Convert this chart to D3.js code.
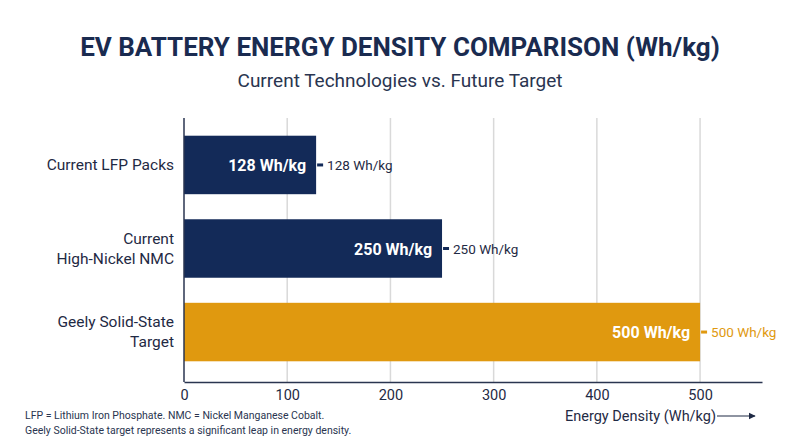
<!DOCTYPE html>
<html>
<head>
<meta charset="utf-8">
<script src="https://cdn.jsdelivr.net/npm/d3@7"></script>
<style>
  body { margin: 0; background: #fff; font-family: Roboto, "Noto Sans", sans-serif; }
</style>
</head>
<body>
<script>
// chart data
var categories = [["Current LFP Packs"], ["Current", "High-Nickel NMC"], ["Geely Solid-State", "Target"]];
var values = [128, 250, 500];
var barColors = ["#132a58", "#132a58", "#e0990f"];
var ticks = [0, 100, 200, 300, 400, 500];

var width = 800, height = 447;
var plotLeft = 184, plotRight = 762, plotTop = 118, plotBottom = 382;

var svg = d3.select("body").append("svg")
            .attr("width", width)
            .attr("height", height);

// title and subtitle
svg.append("text")
   .attr("x", width / 2).attr("y", 56)
   .attr("text-anchor", "middle")
   .attr("font-size", 26).attr("font-weight", "bold")
   .attr("fill", "#1a2b50")
   .text("EV BATTERY ENERGY DENSITY COMPARISON (Wh/kg)");
svg.append("text")
   .attr("x", width / 2).attr("y", 87)
   .attr("text-anchor", "middle")
   .attr("font-size", 19).attr("fill", "#2a3550")
   .text("Current Technologies vs. Future Target");

var xScale = d3.scaleLinear().domain([0, 560]).range([plotLeft, plotRight]);
var yScale = d3.scaleBand().domain(d3.range(values.length))
               .range([plotTop + 1, plotBottom - 4]).paddingInner(0.3).paddingOuter(0.2);

// gridlines
svg.selectAll(".grid").data(ticks.slice(1)).enter().append("line")
   .attr("x1", function(d) { return xScale(d); })
   .attr("x2", function(d) { return xScale(d); })
   .attr("y1", plotTop).attr("y2", plotBottom)
   .attr("stroke", "#d9d9d9").attr("stroke-width", 1.5);

// bars
svg.selectAll(".bar").data(values).enter().append("rect")
   .attr("x", xScale(0))
   .attr("y", function(d, i) { return yScale(i); })
   .attr("width", function(d) { return xScale(d) - xScale(0); })
   .attr("height", yScale.bandwidth())
   .attr("fill", function(d, i) { return barColors[i]; });

// labels inside bars
svg.selectAll(".inlabel").data(values).enter().append("text")
   .attr("x", function(d) { return xScale(d) - 10; })
   .attr("y", function(d, i) { return yScale(i) + yScale.bandwidth() / 2 + 6; })
   .attr("text-anchor", "end")
   .attr("font-size", 16).attr("font-weight", "bold").attr("fill", "#fff")
   .text(function(d) { return d + " Wh/kg"; });

// leader ticks and outside labels
svg.selectAll(".lead").data(values).enter().append("line")
   .attr("x1", function(d) { return xScale(d) + 1; })
   .attr("x2", function(d) { return xScale(d) + 7; })
   .attr("y1", function(d, i) { return yScale(i) + yScale.bandwidth() / 2; })
   .attr("y2", function(d, i) { return yScale(i) + yScale.bandwidth() / 2; })
   .attr("stroke", function(d, i) { return barColors[i]; }).attr("stroke-width", 3);
svg.selectAll(".outlabel").data(values).enter().append("text")
   .attr("x", function(d) { return xScale(d) + 11; })
   .attr("y", function(d, i) { return yScale(i) + yScale.bandwidth() / 2 + 5; })
   .attr("font-size", 13.5)
   .attr("fill", function(d, i) { return i == 2 ? barColors[i] : "#1f2a44"; })
   .text(function(d) { return d + " Wh/kg"; });

// category labels
categories.forEach(function(lines, i) {
  var cy = yScale(i) + yScale.bandwidth() / 2;
  var t = svg.append("text")
     .attr("x", 174).attr("text-anchor", "end")
     .attr("font-size", 15.5).attr("fill", "#1f2a44");
  lines.forEach(function(l, j) {
    t.append("tspan").attr("x", 174)
     .attr("y", cy + 5 + (j - (lines.length - 1) / 2) * 20)
     .text(l);
  });
});

// axes lines
svg.append("line").attr("x1", plotLeft).attr("x2", plotLeft).attr("y1", plotTop).attr("y2", plotBottom)
   .attr("stroke", "#2a3550").attr("stroke-width", 1.5);
var xAxis = d3.axisBottom(xScale).tickValues(ticks).tickSize(0).tickPadding(8);
var gx = svg.append("g").attr("transform", "translate(0," + plotBottom + ")").call(xAxis);
gx.select(".domain").attr("stroke", "#2a3550").attr("stroke-width", 1.5);
gx.selectAll("text").attr("font-size", 14.5).attr("fill", "#1f2a44")
  .attr("font-family", "Roboto, sans-serif");

// axis title with arrow
svg.append("defs").append("marker")
   .attr("id", "arr").attr("viewBox", "0 0 10 10").attr("refX", 9).attr("refY", 5)
   .attr("markerWidth", 6).attr("markerHeight", 6).attr("orient", "auto")
   .append("path").attr("d", "M0,0L10,5L0,10z").attr("fill", "#1f2a44");
svg.append("text")
   .attr("x", 716).attr("y", 421).attr("text-anchor", "end")
   .attr("font-size", 14.5).attr("fill", "#1f2a44")
   .text("Energy Density (Wh/kg)");
svg.append("line").attr("x1", 717).attr("x2", 755).attr("y1", 416).attr("y2", 416)
   .attr("stroke", "#1f2a44").attr("stroke-width", 1.2).attr("marker-end", "url(#arr)");

// footnote
svg.append("text").attr("x", 25).attr("y", 419).attr("font-size", 10.5).attr("fill", "#2a3550")
   .text("LFP = Lithium Iron Phosphate. NMC = Nickel Manganese Cobalt.");
svg.append("text").attr("x", 25).attr("y", 434).attr("font-size", 10.5).attr("fill", "#2a3550")
   .text("Geely Solid-State target represents a significant leap in energy density.");
</script>
</body>
</html>
